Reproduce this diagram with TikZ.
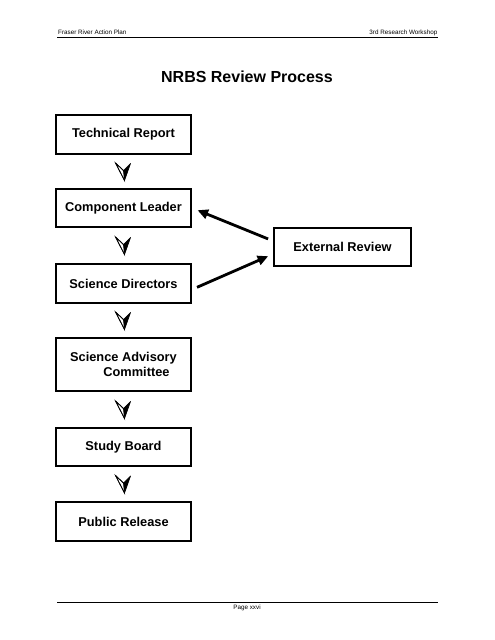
\documentclass[tikz,border=0pt]{standalone}
\usepackage{fontspec}
\setmainfont{Liberation Sans}
\usetikzlibrary{arrows.meta,calc}
\tikzset{
  stepbox/.style={draw=black, line width=2pt, minimum width=135pt, inner sep=0pt,
    font=\fontsize{12.8}{15.5}\selectfont\bfseries, align=left},
  conn/.style={line width=2.8pt, -{Triangle[length=10.5pt,width=9.5pt]}},
  hdr/.style={font=\fontsize{6.3}{7.5}\selectfont, inner sep=0pt},
  rulestyle/.style={line width=1.2pt},
  vhead/.pic={
    \draw[line width=0.7pt, fill=white] (-8,-8.5) -- (0,-1) -- (1,9) -- cycle;
    \fill[black] (0,-1) -- (7,-8) -- (1,9) -- cycle;
    \draw[line width=0.7pt, line join=round] (-8,-8.5) -- (1,9) -- (7,-8) -- (0,-1) -- cycle;
  }
}
\begin{document}
\begin{tikzpicture}[x=1pt,y=-1pt]
\useasboundingbox (0,0) rectangle (495,640);
% header
\node[hdr, anchor=base west] (h1) at (58,34) {Fraser River Action Plan};
\node[hdr, anchor=base east] (h2) at (437.5,34) {3rd Research Workshop};
\coordinate (hl) at (57,37.5);
\coordinate (hr) at (438,37.5);
\draw[rulestyle] (hl) -- (hr);
% title
\node[inner sep=0pt, anchor=base, font=\fontsize{16}{19}\selectfont\bfseries] (title) at (247,82.5) {NRBS Review Process};
% boxes
\node[stepbox, minimum height=39pt] (tr) at (123.5,134.5) {Technical Report};
\node[stepbox, minimum height=38pt] (cl) at (123.5,208) {Component Leader};
\node[stepbox, minimum height=39pt] (sd) at (123.5,283.5) {Science Directors};
\node[stepbox, minimum height=53pt] (sac) at (123.5,364.5) {Science Advisory\\\hspace*{2.6em}Committee};
\node[stepbox, minimum height=38pt] (sb) at (123.5,447) {Study Board};
\node[stepbox, minimum height=39pt] (pr) at (123.5,521.5) {Public Release};
\node[stepbox, minimum height=38pt, minimum width=137pt, line width=1.6pt] (er) at (342.5,247) {External Review};
% flow heads
\pic at ($(tr.south)!0.5!(cl.north)$) {vhead};
\pic at ($(cl.south)!0.5!(sd.north)$) {vhead};
\pic at ($(sd.south)!0.5!(sac.north)$) {vhead};
\pic at ($(sac.south)!0.5!(sb.north)$) {vhead};
\pic at ($(sb.south)!0.5!(pr.north)$) {vhead};
% review connectors
\draw[conn, shorten <=5.5pt, shorten >=6pt] ([yshift=6pt]er.west) -- (cl.east);
\draw[conn, shorten <=5.5pt, shorten >=5.5pt] ([yshift=-6pt]sd.east) -- ([yshift=-7pt]er.west);
% footer
\coordinate (fl) at (57,602);
\coordinate (fr) at (438,602);
\draw[line width=1pt] (fl) -- (fr);
\node[hdr, anchor=base] (pg) at (247,609) {Page xxvi};
\end{tikzpicture}
\end{document}
